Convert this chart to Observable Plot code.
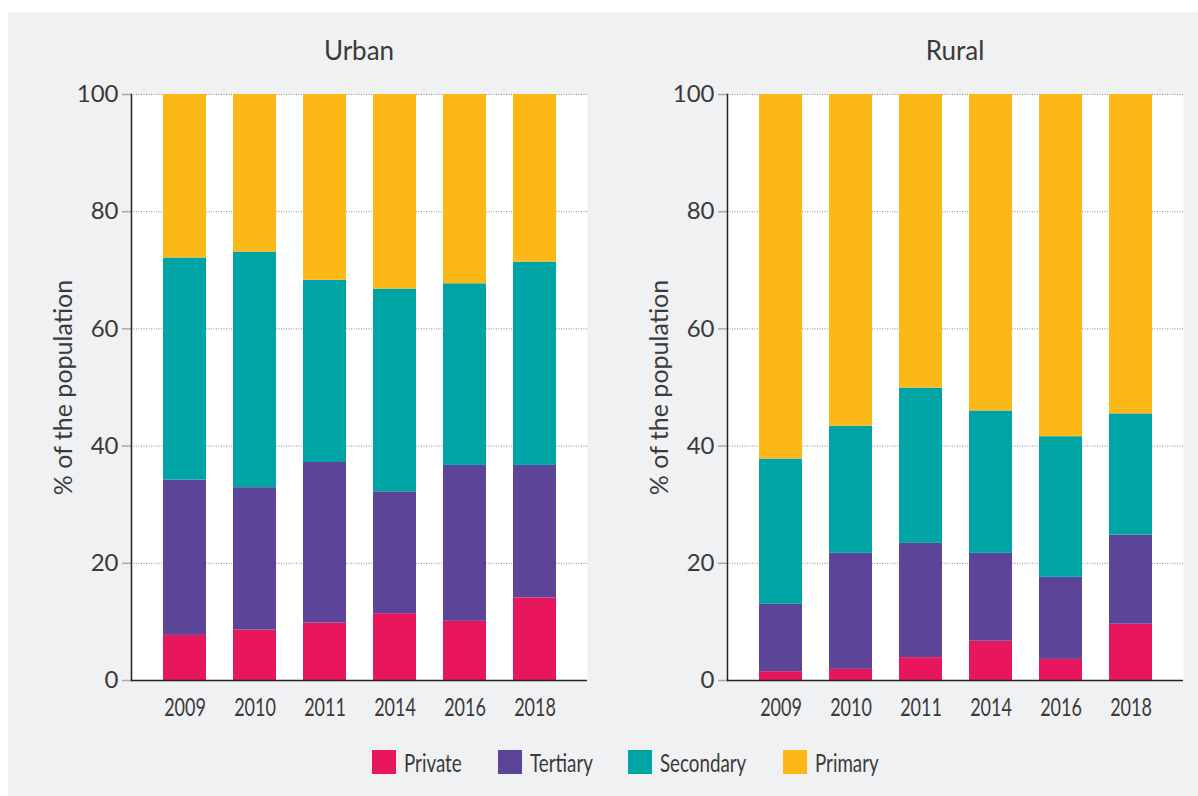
<!DOCTYPE html>
<html><head><meta charset="utf-8">
<script src="https://cdn.jsdelivr.net/npm/d3@7"></script>
<script src="https://cdn.jsdelivr.net/npm/@observablehq/plot@0.6"></script>
<style>
html,body{margin:0;padding:0;background:#fff;width:1198px;height:796px;overflow:hidden;position:relative;}
#bg{position:absolute;left:8px;top:12px;right:0;bottom:0;background:#f0f1f3;}
.panel{position:absolute;top:70px;}
.title{position:absolute;top:37px;width:456px;text-align:center;font-family:Lato,sans-serif;font-size:26px;line-height:26px;color:#3a3a3a;}
#legend{position:absolute;left:372px;top:750px;display:flex;align-items:center;height:24px;font-family:Lato,sans-serif;font-size:25px;color:#3a3a3a;white-space:nowrap;}
#legend .item{display:flex;align-items:center;margin-right:36px;}
#legend .sw{width:24px;height:24px;margin-right:8px;flex:none;}
#legend .tx{display:inline-block;transform:scaleX(0.75);transform-origin:left center;line-height:24px;}
</style>
</head><body>
<div id="bg"></div>
<div class="title" style="left:131px">Urban</div>
<div class="title" style="left:727px">Rural</div>
<div id="urban" class="panel" style="left:0px"></div>
<div id="rural" class="panel" style="left:596px"></div>
<div id="legend"></div>
<script>
const years = ["2009", "2010", "2011", "2014", "2016", "2018"];
const types = ["Private", "Tertiary", "Secondary", "Primary"];
const colors = ["#e8175d", "#5c4598", "#00a4a4", "#fbb816"];
const yTicks = [0, 20, 40, 60, 80, 100];
const gridTicks = [20, 40, 60, 80, 100];
const yLabel = "% of the population";

const urbanPrivate   = [7.7, 8.6, 9.8, 11.4, 10.1, 14.1];
const urbanTertiary  = [26.5, 24.3, 27.4, 20.8, 26.6, 22.6];
const urbanSecondary = [37.9, 40.2, 31.1, 34.6, 31.0, 34.7];
const urbanPrimary   = [27.9, 26.9, 31.7, 33.2, 32.3, 28.6];

const ruralPrivate   = [1.5, 1.9, 3.9, 6.7, 3.6, 9.6];
const ruralTertiary  = [11.5, 19.8, 19.5, 15.0, 14.0, 15.2];
const ruralSecondary = [24.8, 21.7, 26.5, 24.3, 24.0, 20.7];
const ruralPrimary   = [62.2, 56.6, 50.1, 54.0, 58.4, 54.5];

function rows(series) {
  const out = [];
  years.forEach((yr, i) => {
    types.forEach((t, k) => out.push({year: yr, type: t, value: series[k][i]}));
  });
  return out;
}
const urbanData = rows([urbanPrivate, urbanTertiary, urbanSecondary, urbanPrimary]);
const ruralData = rows([ruralPrivate, ruralTertiary, ruralSecondary, ruralPrimary]);

function panel(data) {
  const svg = Plot.plot({
    width: 596, height: 670,
    marginLeft: 131, marginRight: 9, marginTop: 24, marginBottom: 60,
    style: {fontFamily: "Lato, sans-serif", fontSize: "24px", color: "#3a3a3a", background: "transparent", overflow: "visible"},
    x: {domain: years, paddingInner: 0.39, paddingOuter: 0.426, label: null},
    y: {domain: [0, 100], label: null},
    color: {domain: types, range: colors},
    marks: [
      Plot.frame({fill: "white", stroke: "none"}),
      Plot.gridY(gridTicks, {stroke: "#8c8c8c", strokeOpacity: 1, strokeDasharray: "1,1.5"}),
      Plot.barY(data, {x: "year", y: "value", fill: "type"}),
      Plot.axisY(yTicks, {tickSize: 9, tickPadding: 4, stroke: "#aaaaaa", strokeWidth: 1.5, fill: "#3a3a3a", label: null, fontSize: 24}),
      Plot.axisX({tickSize: 0, tickPadding: 18, label: null, fontSize: 25, fill: "#3a3a3a"}),
      Plot.frame({anchor: "left", stroke: "#222", strokeWidth: 1.5}),
      Plot.ruleY([0], {stroke: "#222", strokeWidth: 1.5}),
      Plot.text([yLabel], {frameAnchor: "left", rotate: -90, dx: -68, textAnchor: "middle", lineAnchor: "middle", fontSize: 25, fill: "#3a3a3a"})
    ]
  });
  // condensed look for the year labels
  d3.select(svg).selectAll('g[aria-label="x-axis tick label"] text').each(function() {
    const t = this.getAttribute("transform") || "";
    this.setAttribute("transform", t + " scale(0.72,1)");
  });
  return svg;
}

document.getElementById("urban").appendChild(panel(urbanData));
document.getElementById("rural").appendChild(panel(ruralData));

const color = Plot.scale({color: {domain: types, range: colors}});
const lg = d3.select("#legend");
types.forEach(t => {
  const item = lg.append("span").attr("class", "item");
  item.append("span").attr("class", "sw").style("background", color.apply(t));
  const tx = item.append("span").attr("class", "tx").text(t);
  const w = tx.node().offsetWidth;
  tx.style("margin-right", (-(1 - 0.75) * w) + "px");
});
</script>
</body></html>
